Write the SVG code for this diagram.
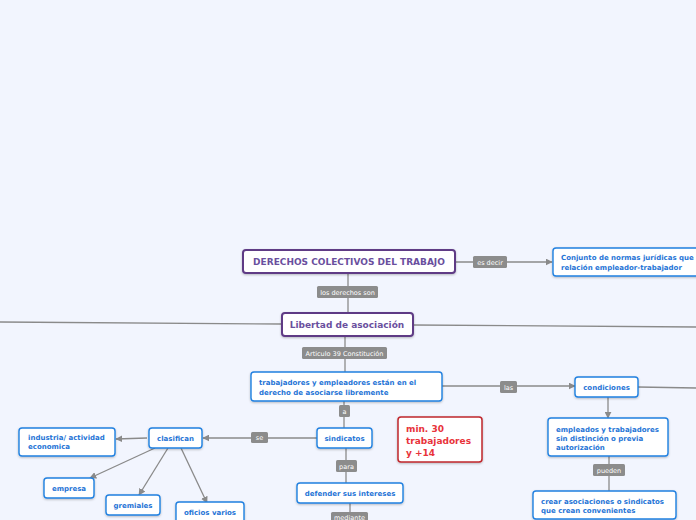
<svg xmlns="http://www.w3.org/2000/svg" width="696" height="520" viewBox="0 0 696 520">
<defs>
<marker id="arr" viewBox="0 0 10 10" refX="9" refY="5" markerWidth="7" markerHeight="7" markerUnits="userSpaceOnUse" orient="auto"><path d="M0,0 L10,5 L0,10 z" fill="#8a8a8a"/></marker>
<filter id="sh" x="-10%" y="-10%" width="120%" height="140%"><feDropShadow dx="0" dy="1" stdDeviation="0.8" flood-color="#000" flood-opacity="0.25"/></filter>
</defs>
<style>
.bg{fill:#f2f5fe}
.c{stroke:#8a8a8a;stroke-width:1.3;fill:none}
.lb{fill:#8c8c8c}
.lt{fill:#ffffff;font-family:"DejaVu Sans",Verdana,sans-serif;font-size:6.5px}
.main{fill:#ffffff;stroke:#5f3b85;stroke-width:2;filter:url(#sh)}
.mt{fill:#6a4f9e;font-family:"DejaVu Sans",Verdana,sans-serif;font-size:9px;font-weight:bold}
.n{fill:#ffffff;stroke:#2080e0;stroke-width:1.4;filter:url(#sh)}
.nt{fill:#1f74d6;font-family:"DejaVu Sans",Verdana,sans-serif;font-size:7px;font-weight:bold}
.r{fill:#ffffff;stroke:#c0262d;stroke-width:1.5;filter:url(#sh)}
.rt{fill:#e8333a;font-family:"DejaVu Sans",Verdana,sans-serif;font-size:9px;font-weight:bold}
</style>
<rect class="bg" x="0" y="0" width="696" height="520"/>
<g id="connectors">
<line class="c" x1="348" y1="273" x2="348" y2="313"/>
<line class="c" x1="281" y1="324" x2="0" y2="322"/>
<line class="c" x1="413" y1="325" x2="696" y2="327"/>
<line class="c" x1="455" y1="262" x2="552" y2="262" marker-end="url(#arr)"/>
<line class="c" x1="345" y1="336" x2="345" y2="372"/>
<line class="c" x1="344" y1="401" x2="344" y2="428"/>
<line class="c" x1="442" y1="386" x2="575" y2="386" marker-end="url(#arr)"/>
<line class="c" x1="638" y1="387" x2="696" y2="388"/>
<line class="c" x1="608" y1="397" x2="608" y2="418" marker-end="url(#arr)"/>
<line class="c" x1="609" y1="456" x2="609" y2="491"/>
<line class="c" x1="317" y1="438" x2="203" y2="438" marker-end="url(#arr)"/>
<line class="c" x1="147" y1="438" x2="116" y2="439" marker-end="url(#arr)"/>
<line class="c" x1="155" y1="448" x2="90" y2="478" marker-end="url(#arr)"/>
<line class="c" x1="168" y1="448" x2="139" y2="495" marker-end="url(#arr)"/>
<line class="c" x1="181" y1="448" x2="207" y2="503" marker-end="url(#arr)"/>
<line class="c" x1="346" y1="448" x2="346" y2="483"/>
<line class="c" x1="350" y1="503" x2="350" y2="520"/>
<rect class="lb" x="473" y="256" width="34" height="12" rx="1.5"/>
<text class="lt" x="490" y="264.5" text-anchor="middle">es decir</text>
<rect class="lb" x="317" y="286" width="61" height="12" rx="1.5"/>
<text class="lt" x="347.5" y="294.5" text-anchor="middle">los derechos son</text>
<rect class="lb" x="302" y="347" width="85" height="12" rx="1.5"/>
<text class="lt" x="344.5" y="355.5" text-anchor="middle">Articulo 39 Constitución</text>
<rect class="lb" x="339" y="405" width="11" height="12" rx="1.5"/>
<text class="lt" x="344.5" y="413.5" text-anchor="middle">a</text>
<rect class="lb" x="500" y="381" width="17" height="12" rx="1.5"/>
<text class="lt" x="508.5" y="389.5" text-anchor="middle">las</text>
<rect class="lb" x="593" y="464" width="32" height="12" rx="1.5"/>
<text class="lt" x="609" y="472.5" text-anchor="middle">pueden</text>
<rect class="lb" x="251" y="432" width="17" height="11" rx="1.5"/>
<text class="lt" x="259.5" y="440" text-anchor="middle">se</text>
<rect class="lb" x="336" y="460" width="21" height="12" rx="1.5"/>
<text class="lt" x="346.5" y="468.5" text-anchor="middle">para</text>
<rect class="lb" x="331" y="512" width="37" height="12" rx="1.5"/>
<text class="lt" x="349.5" y="520" text-anchor="middle">mediante</text>
</g>
<g id="n-derechos">
<rect class="main" x="243" y="250" width="212" height="23" rx="3"/>
<text class="mt" x="349" y="265" text-anchor="middle">DERECHOS COLECTIVOS DEL TRABAJO</text>
</g>
<g id="n-conjunto">
<rect class="n" x="553" y="248" width="150" height="28" rx="3"/>
<text class="nt" x="561" y="260">Conjunto de normas jurídicas que</text>
<text class="nt" x="561" y="269.5">relación empleador-trabajador</text>
</g>
<g id="n-libertad">
<rect class="main" x="282" y="313" width="131" height="23" rx="3"/>
<text class="mt" x="347" y="328" text-anchor="middle">Libertad de asociación</text>
</g>
<g id="n-trabajadores">
<rect class="n" x="251" y="372" width="191" height="29" rx="3"/>
<text class="nt" x="259" y="385">trabajadores y empleadores están en el</text>
<text class="nt" x="259" y="394.5">derecho de asociarse libremente</text>
</g>
<g id="n-condiciones">
<rect class="n" x="575" y="377" width="63" height="20" rx="3"/>
<text class="nt" x="606.5" y="389.5" text-anchor="middle">condiciones</text>
</g>
<g id="n-empleados">
<rect class="n" x="548" y="418" width="120" height="38" rx="3"/>
<text class="nt" x="556" y="431.5">empleados y trabajadores</text>
<text class="nt" x="556" y="440.5">sin distinción o previa</text>
<text class="nt" x="556" y="449.5">autorización</text>
</g>
<g id="n-crear">
<rect class="n" x="533" y="491" width="143" height="28" rx="3"/>
<text class="nt" x="541" y="503.5">crear asociaciones o sindicatos</text>
<text class="nt" x="541" y="512.5">que crean convenientes</text>
</g>
<g id="n-min30">
<rect class="r" x="398" y="417" width="84" height="45" rx="3"/>
<text class="rt" x="406" y="431.5">min. 30</text>
<text class="rt" x="406" y="443.5">trabajadores</text>
<text class="rt" x="406" y="455.5">y +14</text>
</g>
<g id="n-sindicatos">
<rect class="n" x="317" y="428" width="55" height="20" rx="3"/>
<text class="nt" x="344.5" y="440.5" text-anchor="middle">sindicatos</text>
</g>
<g id="n-clasifican">
<rect class="n" x="149" y="428" width="53" height="20" rx="3"/>
<text class="nt" x="175.5" y="440.5" text-anchor="middle">clasifican</text>
</g>
<g id="n-industria">
<rect class="n" x="19" y="428" width="96" height="28" rx="3"/>
<text class="nt" x="28" y="440">industria/ actividad</text>
<text class="nt" x="28" y="449">economica</text>
</g>
<g id="n-empresa">
<rect class="n" x="44" y="478" width="50" height="20" rx="3"/>
<text class="nt" x="69" y="490.5" text-anchor="middle">empresa</text>
</g>
<g id="n-gremiales">
<rect class="n" x="106" y="495" width="54" height="20" rx="3"/>
<text class="nt" x="133" y="507.5" text-anchor="middle">gremiales</text>
</g>
<g id="n-oficios">
<rect class="n" x="176" y="502" width="68" height="22" rx="3"/>
<text class="nt" x="210" y="514.5" text-anchor="middle">oficios varios</text>
</g>
<g id="n-defender">
<rect class="n" x="297" y="483" width="106" height="20" rx="3"/>
<text class="nt" x="350" y="495.5" text-anchor="middle">defender sus intereses</text>
</g>
</svg>
